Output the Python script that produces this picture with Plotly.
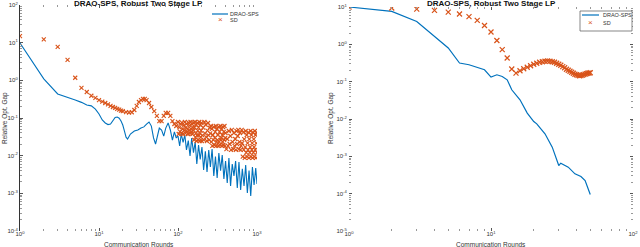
import plotly.graph_objects as go

# ---------------- data: left panel ----------------
left_drao_x = [1, 2, 3, 4, 5, 6, 7, 8, 9, 10, 11, 12, 13, 14, 15, 16, 17, 18, 19, 20,
               21, 22, 23, 25, 28, 31, 34, 37, 40, 43, 46, 49, 52, 55, 58, 62, 66, 70,
               75, 80, 85, 90, 95,
               100, 105, 110, 116, 122, 128, 135, 142, 149, 157, 165, 173, 182, 191,
               201, 211, 222, 233, 245, 257, 270, 284, 298, 313, 329, 346, 363, 381,
               400, 420, 441, 463, 486, 511, 536, 563, 591, 621, 652, 685, 719, 755,
               793, 833, 875, 918, 964, 1000]
left_drao_y = [9.8, 1.09, 0.434, 0.36, 0.30, 0.26, 0.221, 0.21, 0.172, 0.128, 0.0885,
               0.0737, 0.067, 0.0693, 0.083, 0.103, 0.106, 0.099, 0.083, 0.065,
               0.045, 0.031, 0.0277, 0.0376, 0.045, 0.048, 0.054, 0.058, 0.069, 0.078,
               0.061, 0.0295, 0.0204, 0.0333, 0.054, 0.048, 0.033, 0.054,
               0.074, 0.048, 0.026, 0.043, 0.0295,
               0.0333, 0.0181, 0.0376, 0.0226, 0.0355, 0.0142, 0.0250, 0.0098, 0.0295,
               0.0120, 0.0231, 0.00601, 0.0192, 0.0080, 0.0170, 0.00417, 0.0130,
               0.00369, 0.0142, 0.0050, 0.0151, 0.00289, 0.0095, 0.00255, 0.0118,
               0.0040, 0.0104, 0.00240, 0.0072, 0.00188, 0.00868, 0.00157, 0.0060,
               0.00290, 0.00723, 0.00139, 0.0068, 0.00123, 0.0045, 0.00157, 0.00565,
               0.00102, 0.0040, 0.000851, 0.00501, 0.00167, 0.00471, 0.00177]

left_sd_x = ([1, 2, 3, 4, 5, 6, 7, 8, 9, 10, 11, 12, 13, 14, 15, 16, 17, 18, 19, 20,
              22, 24, 26, 28, 30, 32, 34, 36, 38, 40, 43, 46, 50, 54, 58, 62, 66, 70,
              75, 80, 85, 90, 95]
             + list(range(100, 200, 2)) + list(range(200, 400, 4))
             + list(range(400, 1001, 10)))
left_sd_y = [15.0, 12.3, 7.7, 3.47, 1.17, 0.63, 0.49, 0.39, 0.34, 0.30, 0.273, 0.25,
             0.229, 0.211, 0.196, 0.185, 0.174, 0.166, 0.158, 0.153,
             0.144, 0.140, 0.142, 0.163, 0.211, 0.266, 0.30, 0.32, 0.32, 0.30, 0.25,
             0.196, 0.153, 0.114, 0.083, 0.083, 0.114, 0.136,
             0.136, 0.114, 0.083, 0.0693, 0.0613,
             # x = 100 .. 158
             0.0783, 0.0376, 0.0563, 0.0436, 0.0702, 0.0390, 0.0755, 0.0504, 0.0376, 0.0628,
             0.0469, 0.0783, 0.0390, 0.0563, 0.0702, 0.0436, 0.0504, 0.0376, 0.0755, 0.0469,
             0.0628, 0.0390, 0.0783, 0.0504, 0.0436, 0.0702, 0.0376, 0.0563, 0.0755, 0.0469,
             # x = 160 .. 256
             0.0261, 0.0553, 0.0783, 0.0310, 0.0390, 0.0656, 0.0245, 0.0348, 0.0737, 0.0463,
             0.0261, 0.0553, 0.0348, 0.0783, 0.0245, 0.0390, 0.0656, 0.0310, 0.0463, 0.0737,
             0.0245, 0.0348, 0.0553, 0.0261, 0.0783, 0.0390, 0.0656, 0.0310, 0.0245, 0.0463,
             0.0737, 0.0348, 0.0261, 0.0553, 0.0390,
             # x = 260 .. 396
             0.0613, 0.0231, 0.0511, 0.0181, 0.0354, 0.0261, 0.0577, 0.0192, 0.0295, 0.0426,
             0.0613, 0.0181, 0.0231, 0.0511, 0.0261,
             0.0354, 0.0181, 0.0577, 0.0231, 0.0426, 0.0192, 0.0613, 0.0261, 0.0295, 0.0511,
             0.0181, 0.0354, 0.0231, 0.0577, 0.0192, 0.0426, 0.0261, 0.0613, 0.0181, 0.0295,
             # x = 400 .. 640
             0.0400, 0.0150, 0.0277, 0.0181, 0.0452, 0.0204, 0.0333, 0.0142, 0.0481, 0.0231,
             0.0150, 0.0400, 0.0181, 0.0277, 0.0142, 0.0452, 0.0204, 0.0333, 0.0481, 0.0150,
             0.0231, 0.0400, 0.0142, 0.0181, 0.0481,
             # x = 650 .. 1000
             0.0214, 0.0094, 0.0413, 0.0142, 0.0275, 0.00868, 0.0168, 0.0452, 0.0121, 0.0354,
             0.0094, 0.0214, 0.0142, 0.0413, 0.00868, 0.0275, 0.0121, 0.0168, 0.0452, 0.0094,
             0.0354, 0.0142, 0.0214, 0.00868, 0.0413, 0.0121, 0.0275, 0.0168, 0.0094, 0.0452,
             0.0142, 0.0354, 0.00868, 0.0214, 0.0413, 0.0121]

# ---------------- data: right panel ----------------
right_drao_x = [1, 2, 3, 4, 5, 6, 7, 9, 10, 11, 12, 13, 14, 16, 18, 20, 21, 24, 27,
                30, 31, 35, 39, 43, 46, 50]
right_drao_y = [10, 7.6, 4.1, 1.63, 0.80, 0.315, 0.284, 0.208, 0.133, 0.153, 0.138,
                0.112, 0.0607, 0.0327, 0.0144, 0.00857, 0.00743, 0.00401, 0.00176,
                0.000567, 0.000657, 0.000513, 0.000339, 0.000287, 0.000224, 0.0000946]

right_sd_x = list(range(1, 51))
right_sd_y = [10, 9.4, 8.8, 8.1, 7.3, 6.5, 5.5, 4.4, 3.2, 2.14, 1.27, 0.72, 0.43,
              0.218, 0.170, 0.196, 0.222, 0.243, 0.267, 0.292, 0.311, 0.331, 0.342,
              0.352, 0.357, 0.352, 0.342, 0.331, 0.311, 0.292, 0.275, 0.254, 0.236,
              0.215, 0.202, 0.190, 0.179, 0.168, 0.158, 0.153, 0.148, 0.144, 0.146,
              0.150, 0.155, 0.160, 0.165, 0.168, 0.171, 0.173]

# ---------------- tick labels / text ----------------
left_x_vals = [1, 10, 100, 1000]
left_x_text = ["10<sup>0</sup>", "10<sup>1</sup>", "10<sup>2</sup>", "10<sup>3</sup>"]
left_y_vals = [1e-4, 1e-3, 1e-2, 1e-1, 1, 10, 100]
left_y_text = ["10<sup>-4</sup>", "10<sup>-3</sup>", "10<sup>-2</sup>", "10<sup>-1</sup>",
               "10<sup>0</sup>", "10<sup>1</sup>", "10<sup>2</sup>"]
right_x_vals = [1, 10, 100]
right_x_text = ["10<sup>0</sup>", "10<sup>1</sup>", "10<sup>2</sup>"]
right_y_vals = [1e-5, 1e-4, 1e-3, 1e-2, 1e-1, 1, 10]
right_y_text = ["10<sup>-5</sup>", "10<sup>-4</sup>", "10<sup>-3</sup>", "10<sup>-2</sup>",
                "10<sup>-1</sup>", "10<sup>0</sup>", "10<sup>1</sup>"]

title_text = "DRAO-SPS, Robust Two Stage LP"
x_title = "Communication Rounds"
y_title = "Relative Opt. Gap"
legend_names = ["DRAO-SPS", "SD"]

BLUE = "#0072BD"
ORANGE = "#D95319"
FONT = "Liberation Sans"
W, H = 640, 247

fig = go.Figure()
fig.add_trace(go.Scatter(x=left_drao_x, y=left_drao_y, mode="lines", name=legend_names[0],
                         line=dict(color=BLUE, width=1.1), xaxis="x", yaxis="y"))
fig.add_trace(go.Scatter(x=left_sd_x, y=left_sd_y, mode="markers", name=legend_names[1],
                         marker=dict(symbol="x-thin", size=4, color=ORANGE,
                                     line=dict(color=ORANGE, width=1.1)),
                         xaxis="x", yaxis="y"))
fig.add_trace(go.Scatter(x=right_drao_x, y=right_drao_y, mode="lines", name=legend_names[0],
                         line=dict(color=BLUE, width=1.2), xaxis="x2", yaxis="y2"))
fig.add_trace(go.Scatter(x=right_sd_x, y=right_sd_y, mode="markers", name=legend_names[1],
                         marker=dict(symbol="x-thin", size=5, color=ORANGE,
                                     line=dict(color=ORANGE, width=1.2)),
                         xaxis="x2", yaxis="y2"))

tickfont = dict(family=FONT, size=6, color="#333")
minor = dict(ticks="inside", ticklen=2, tickcolor="#999", dtick="D1")
common = dict(type="log", showgrid=False, zeroline=False, ticks="inside", ticklen=3,
              tickcolor="#555", tickfont=tickfont, minor=minor, automargin=False)

ldx = [20 / W, 257 / W]
rdx = [349 / W, 633 / W]
ldy = [1 - 231 / H, 1 - 5 / H]
rdy = [1 - 231 / H, 1 - 7 / H]

fig.update_layout(
    width=W, height=H, autosize=False,
    margin=dict(l=0, r=0, t=0, b=0, pad=0),
    paper_bgcolor="white", plot_bgcolor="white",
    showlegend=False,
    xaxis=dict(domain=ldx, range=[0, 3], anchor="y", tickvals=left_x_vals,
               ticktext=left_x_text, showline=True, linecolor="rgba(0,0,0,0)",
               mirror="ticks", ticklabelstandoff=-3, **common),
    yaxis=dict(domain=ldy, range=[-4, 2], anchor="x", tickvals=left_y_vals,
               ticktext=left_y_text, showline=True, linecolor="#333", linewidth=1,
               **common),
    yaxis3=dict(overlaying="y", side="right", anchor="x", range=[-4, 2],
                tickvals=left_y_vals, showticklabels=False, showline=False, **common),
    xaxis2=dict(domain=rdx, range=[0, 2], anchor="y2", tickvals=right_x_vals,
                ticktext=right_x_text, showline=True, linecolor="rgba(0,0,0,0)",
                mirror="ticks", ticklabelstandoff=-3, **common),
    yaxis2=dict(domain=rdy, range=[-5, 1], anchor="x2", tickvals=right_y_vals,
                ticktext=right_y_text, showline=True, linecolor="rgba(0,0,0,0)",
                mirror="ticks", **common),
)

annos = []
shapes = []
for cx in [(20 + 257) / 2 / W, (349 + 633) / 2 / W]:
    annos.append(dict(text="<b>" + title_text + "</b>", x=cx, y=1, xref="paper",
                      yref="paper", xanchor="center", yanchor="top", yshift=3,
                      showarrow=False, font=dict(family=FONT, size=8, color="#111")))
    annos.append(dict(text=x_title, x=cx, y=1 - 244 / H, xref="paper", yref="paper",
                      xanchor="center", yanchor="middle", showarrow=False,
                      borderpad=0, font=dict(family=FONT, size=6.5, color="#333")))
for lx in [5 / W, 331 / W]:
    annos.append(dict(text=y_title, x=lx, y=1 - 118 / H, xref="paper", yref="paper",
                      xanchor="center", yanchor="middle", textangle=-90,
                      showarrow=False, font=dict(family=FONT, size=6.5, color="#333")))


def add_legend(x_line0, x_line1, x_text, y1, y2, x_mark, box=None):
    if box is not None:
        shapes.append(dict(type="rect", xref="paper", yref="paper",
                           x0=box[0] / W, x1=box[1] / W, y0=1 - box[3] / H, y1=1 - box[2] / H,
                           line=dict(color="#555", width=0.7), fillcolor="white"))
    shapes.append(dict(type="line", xref="paper", yref="paper",
                       x0=x_line0 / W, x1=x_line1 / W, y0=1 - y1 / H, y1=1 - y1 / H,
                       line=dict(color=BLUE, width=1.2)))
    annos.append(dict(text=legend_names[0], x=x_text / W, y=1 - y1 / H, xref="paper",
                      yref="paper", xanchor="left", yanchor="middle", showarrow=False,
                      borderpad=0, font=dict(family=FONT, size=5.5, color="#333")))
    annos.append(dict(text="×", x=x_mark / W, y=1 - y2 / H, xref="paper",
                      yref="paper", xanchor="center", yanchor="middle", showarrow=False,
                      borderpad=0, font=dict(family=FONT, size=8, color=ORANGE)))
    annos.append(dict(text=legend_names[1], x=x_text / W, y=1 - y2 / H, xref="paper",
                      yref="paper", xanchor="left", yanchor="middle", showarrow=False,
                      borderpad=0, font=dict(family=FONT, size=5.5, color="#333")))


add_legend(212, 228, 229, 14, 20, 220)
add_legend(582, 599, 602, 15, 23, 590, box=(580, 632, 11, 31))

fig.update_layout(annotations=annos, shapes=shapes)

fig.write_html("out.html", config={"displayModeBar": False},
               post_script="document.body.style.margin='0px';")
